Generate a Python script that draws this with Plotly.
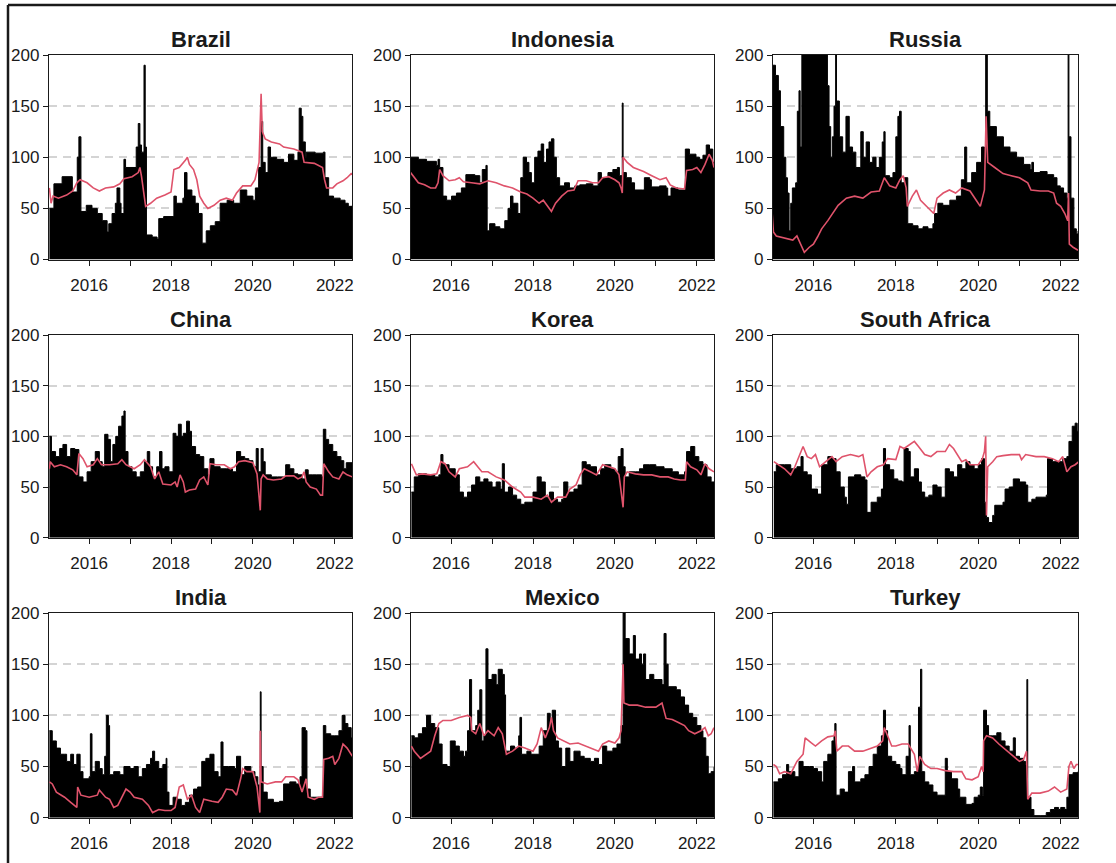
import plotly.graph_objects as go

countries = ["Brazil", "Indonesia", "Russia", "China", "Korea", "South Africa", "India", "Mexico", "Turkey"]
x_tickvals = [2016, 2017, 2018, 2019, 2020, 2021, 2022]
x_ticktext = ["2016", "", "2018", "", "2020", "", "2022"]
y_tickvals = [0, 50, 100, 150, 200]
y_ticktext = ["0", "50", "100", "150", "200"]

# (decimal year, value) pairs
brazil_bar = [(2015.03,50),(2015.14,74),(2015.34,81),(2015.59,66),(2015.71,100),(2015.75,120),(2015.80,47),(2015.93,53),
    (2016.07,50),(2016.20,45),(2016.32,38),(2016.44,27),(2016.48,35),(2016.56,45),(2016.64,55),(2016.68,70),(2016.75,55),(2016.78,45),(2016.85,98),(2016.89,90),
    (2017.15,110),(2017.20,133),(2017.24,112),(2017.28,105),(2017.34,190),(2017.37,110),(2017.40,24),(2017.54,22),(2017.66,20),(2017.70,40),(2017.82,42),
    (2018.07,62),(2018.13,55),(2018.29,60),(2018.33,85),(2018.39,68),(2018.51,62),(2018.59,55),(2018.67,45),(2018.76,16),(2018.86,28),(2018.96,33),
    (2019.08,37),(2019.20,55),(2019.37,58),(2019.53,55),(2019.69,68),(2019.85,62),
    (2020.00,58),(2020.06,70),(2020.14,90),(2020.20,135),(2020.24,95),(2020.30,85),(2020.37,110),(2020.43,100),(2020.58,98),(2020.75,95),(2020.87,103),
    (2021.00,97),(2021.10,105),(2021.13,148),(2021.18,140),(2021.22,115),(2021.28,100),(2021.30,105),(2021.52,104),(2021.72,105),(2021.76,80),(2021.85,62),(2021.97,60),
    (2022.13,58),(2022.25,55),(2022.33,52),(2022.43,53)]
brazil_line = [(2015.03,70),(2015.07,55),(2015.12,62),(2015.25,60),(2015.45,63),(2015.60,67),(2015.70,75),(2015.78,78),(2015.95,75),
    (2016.10,70),(2016.25,67),(2016.40,70),(2016.60,71),(2016.75,74),(2016.85,79),(2017.05,81),(2017.20,85),(2017.24,90),(2017.28,81),(2017.38,52),
    (2017.50,55),(2017.65,60),(2017.85,63),(2018.00,66),(2018.07,88),(2018.20,90),(2018.35,97),(2018.40,100),(2018.45,93),(2018.55,88),(2018.63,78),
    (2018.70,62),(2018.80,55),(2018.90,50),(2019.05,53),(2019.20,58),(2019.35,60),(2019.50,58),(2019.60,65),(2019.75,72),(2019.95,72),(2020.05,78),
    (2020.15,95),(2020.20,162),(2020.23,125),(2020.30,118),(2020.45,115),(2020.65,113),(2020.75,110),(2021.00,108),(2021.20,105),(2021.25,95),
    (2021.50,94),(2021.70,90),(2021.75,78),(2021.80,70),(2021.95,70),(2022.05,74),(2022.20,77),(2022.30,80),(2022.40,84),(2022.43,83)]

indonesia_bar = [(2015.01,100),(2015.20,98),(2015.40,96),(2015.64,92),(2015.68,98),(2015.72,90),(2015.80,62),(2015.89,58),(2016.01,62),(2016.13,65),
    (2016.25,70),(2016.36,83),(2016.58,82),(2016.70,75),(2016.76,88),(2016.85,92),(2016.88,28),(2016.94,35),(2017.07,32),(2017.19,30),(2017.31,38),
    (2017.39,50),(2017.45,62),(2017.51,55),(2017.63,45),(2017.70,80),(2017.76,100),(2017.84,95),(2017.90,85),(2017.96,75),(2018.04,100),(2018.12,106),
    (2018.20,113),(2018.26,95),(2018.33,108),(2018.39,115),(2018.45,118),(2018.51,100),(2018.57,80),(2018.65,72),(2018.77,75),(2018.89,70),(2019.02,72),
    (2019.14,73),(2019.30,74),(2019.46,72),(2019.59,85),(2019.67,80),(2019.83,85),(2019.95,88),(2020.06,90),(2020.11,82),(2020.18,153),(2020.20,85),
    (2020.28,80),(2020.40,75),(2020.48,68),(2020.68,68),(2020.72,80),(2020.85,78),(2020.89,71),(2021.09,72),(2021.25,70),(2021.29,62),(2021.37,70),
    (2021.54,68),(2021.70,68),(2021.72,108),(2021.82,103),(2021.98,100),(2022.07,98),(2022.15,102),(2022.23,112),(2022.31,108),(2022.39,95),(2022.42,95)]
indonesia_line = [(2015.01,85),(2015.10,80),(2015.20,75),(2015.35,73),(2015.50,70),(2015.62,70),(2015.68,75),(2015.72,88),(2015.80,82),(2015.95,77),
    (2016.10,78),(2016.20,80),(2016.30,76),(2016.50,75),(2016.70,74),(2016.90,77),(2017.10,75),(2017.30,72),(2017.50,70),(2017.70,66),(2017.85,64),
    (2018.00,60),(2018.15,55),(2018.25,58),(2018.40,50),(2018.45,47),(2018.55,55),(2018.70,62),(2018.85,67),(2019.00,68),(2019.10,77),(2019.30,77),
    (2019.45,75),(2019.60,75),(2019.70,80),(2019.85,81),(2020.00,78),(2020.10,75),(2020.15,70),(2020.18,65),(2020.20,100),(2020.30,95),(2020.45,90),
    (2020.70,86),(2020.90,82),(2021.10,78),(2021.25,80),(2021.35,73),(2021.50,70),(2021.70,69),(2021.75,87),(2021.90,88),(2022.00,90),(2022.10,85),
    (2022.20,93),(2022.30,103),(2022.38,97),(2022.42,90)]

russia_bar = [(2015.00,190),(2015.08,180),(2015.15,165),(2015.20,130),(2015.28,100),(2015.33,80),(2015.37,65),(2015.41,28),(2015.45,55),(2015.49,70),
    (2015.57,75),(2015.61,145),(2015.65,165),(2015.68,110),(2015.72,230),(2016.30,230),(2016.34,170),(2016.38,130),(2016.42,100),(2016.46,120),(2016.50,150),
    (2016.54,230),(2016.56,155),(2016.63,120),(2016.71,105),(2016.79,140),(2016.87,110),(2016.95,105),(2017.03,90),(2017.15,125),(2017.21,100),
    (2017.28,115),(2017.36,95),(2017.44,100),(2017.52,90),(2017.60,100),(2017.67,115),(2017.71,125),(2017.74,82),(2017.85,80),(2017.93,85),(2018.00,120),
    (2018.05,140),(2018.09,145),(2018.13,75),(2018.21,80),(2018.29,35),(2018.41,33),(2018.54,30),(2018.66,32),(2018.78,30),(2018.90,35),(2018.94,45),
    (2019.02,55),(2019.14,53),(2019.31,58),(2019.47,62),(2019.59,78),(2019.67,110),(2019.72,75),(2019.84,85),(2019.96,95),(2020.08,110),(2020.15,95),
    (2020.18,230),(2020.22,145),(2020.28,130),(2020.44,120),(2020.61,110),(2020.77,105),(2020.93,100),(2021.10,93),(2021.26,88),(2021.30,95),(2021.34,85),
    (2021.50,86),(2021.67,83),(2021.83,80),(2021.91,72),(2021.99,70),(2022.07,65),(2022.15,60),(2022.18,230),(2022.20,120),(2022.25,60),(2022.32,30),
    (2022.38,25),(2022.42,28)]
russia_line = [(2015.00,45),(2015.03,27),(2015.10,23),(2015.30,21),(2015.50,19),(2015.60,23),(2015.70,15),(2015.78,7),(2015.90,12),(2016.00,15),
    (2016.10,22),(2016.20,30),(2016.35,38),(2016.50,47),(2016.60,53),(2016.80,60),(2017.00,62),(2017.20,60),(2017.40,66),(2017.60,67),(2017.72,80),
    (2017.85,72),(2018.00,70),(2018.10,78),(2018.18,82),(2018.25,70),(2018.28,52),(2018.40,62),(2018.50,68),(2018.60,58),(2018.80,50),(2018.92,45),
    (2019.00,60),(2019.15,65),(2019.30,68),(2019.45,65),(2019.60,70),(2019.80,67),(2019.95,58),(2020.05,52),(2020.10,60),(2020.15,68),(2020.19,140),
    (2020.23,95),(2020.40,90),(2020.60,84),(2020.80,82),(2021.00,80),(2021.20,75),(2021.28,68),(2021.50,67),(2021.70,67),(2021.83,65),(2021.90,55),
    (2022.00,52),(2022.10,45),(2022.17,38),(2022.19,65),(2022.21,15),(2022.30,12),(2022.42,9)]

china_bar = [(2015.03,100),(2015.08,85),(2015.18,80),(2015.28,88),(2015.36,92),(2015.45,80),(2015.55,88),(2015.65,87),(2015.75,60),(2015.85,55),
    (2015.95,65),(2016.05,75),(2016.15,85),(2016.25,75),(2016.32,70),(2016.38,102),(2016.46,97),(2016.52,75),(2016.58,92),(2016.65,100),(2016.72,110),
    (2016.80,120),(2016.85,125),(2016.88,85),(2016.95,70),(2017.05,65),(2017.15,60),(2017.25,65),(2017.35,75),(2017.42,85),(2017.48,70),(2017.55,60),
    (2017.65,70),(2017.72,85),(2017.78,68),(2017.85,70),(2017.95,65),(2018.05,103),(2018.12,100),(2018.18,112),(2018.25,100),(2018.30,103),(2018.38,115),
    (2018.45,105),(2018.50,90),(2018.60,82),(2018.70,80),(2018.80,68),(2018.90,62),(2018.95,78),(2019.05,70),(2019.20,68),(2019.35,68),(2019.50,65),
    (2019.60,85),(2019.70,80),(2019.80,78),(2019.90,76),(2020.00,70),(2020.08,88),(2020.13,65),(2020.20,88),(2020.25,75),(2020.30,62),(2020.45,60),
    (2020.60,60),(2020.75,60),(2020.80,72),(2020.90,68),(2021.00,63),(2021.10,62),(2021.20,58),(2021.28,67),(2021.35,62),(2021.45,62),(2021.55,62),
    (2021.68,60),(2021.72,107),(2021.78,97),(2021.85,92),(2021.95,85),(2022.05,80),(2022.15,76),(2022.22,68),(2022.28,74),(2022.43,74)]
china_line = [(2015.03,68),(2015.05,75),(2015.15,70),(2015.30,72),(2015.45,70),(2015.60,67),(2015.70,62),(2015.75,83),(2015.85,78),(2015.95,70),
    (2016.10,72),(2016.20,78),(2016.30,72),(2016.50,72),(2016.70,73),(2016.80,77),(2016.90,72),(2017.10,68),(2017.25,72),(2017.35,77),(2017.50,70),
    (2017.60,58),(2017.70,65),(2017.80,53),(2018.00,52),(2018.10,55),(2018.15,50),(2018.22,62),(2018.30,55),(2018.35,45),(2018.45,47),(2018.60,48),
    (2018.70,57),(2018.80,60),(2018.90,52),(2018.95,73),(2019.10,72),(2019.30,72),(2019.45,68),(2019.55,70),(2019.65,75),(2019.80,76),(2020.00,74),
    (2020.10,63),(2020.18,27),(2020.20,58),(2020.25,62),(2020.35,58),(2020.50,57),(2020.70,58),(2020.80,61),(2021.00,61),(2021.10,58),(2021.20,60),
    (2021.25,65),(2021.30,55),(2021.40,50),(2021.55,48),(2021.65,42),(2021.70,42),(2021.73,73),(2021.85,65),(2021.95,60),(2022.10,58),(2022.20,65),
    (2022.30,62),(2022.43,60)]

korea_bar = [(2015.03,45),(2015.10,60),(2015.20,63),(2015.40,62),(2015.60,60),(2015.70,62),(2015.75,82),(2015.80,72),(2015.95,68),(2016.10,62),
    (2016.20,45),(2016.30,40),(2016.40,45),(2016.50,52),(2016.60,60),(2016.70,55),(2016.80,58),(2016.90,55),(2017.00,50),(2017.10,55),(2017.20,48),
    (2017.25,73),(2017.30,45),(2017.40,50),(2017.50,42),(2017.60,38),(2017.70,33),(2017.80,35),(2017.90,35),(2018.00,45),(2018.10,60),(2018.20,55),
    (2018.30,40),(2018.40,45),(2018.50,38),(2018.60,35),(2018.70,38),(2018.75,55),(2018.85,45),(2019.00,48),(2019.10,52),(2019.20,75),(2019.30,72),
    (2019.40,70),(2019.55,62),(2019.65,68),(2019.75,72),(2019.90,68),(2020.00,65),(2020.08,80),(2020.15,88),(2020.20,70),(2020.25,60),(2020.35,65),
    (2020.50,65),(2020.60,68),(2020.70,72),(2020.85,72),(2021.00,70),(2021.20,68),(2021.40,65),(2021.55,62),(2021.70,65),(2021.75,85),(2021.85,90),
    (2021.95,80),(2022.05,75),(2022.15,72),(2022.25,60),(2022.35,55),(2022.42,50)]
korea_line = [(2015.03,73),(2015.08,68),(2015.15,62),(2015.30,63),(2015.50,62),(2015.65,63),(2015.75,75),(2015.85,73),(2015.95,65),(2016.10,60),
    (2016.20,68),(2016.40,70),(2016.55,75),(2016.65,70),(2016.75,65),(2016.90,65),(2017.10,60),(2017.30,57),(2017.50,50),(2017.70,45),(2017.80,40),
    (2018.00,40),(2018.20,38),(2018.35,42),(2018.45,35),(2018.60,40),(2018.80,40),(2018.90,48),(2019.05,52),(2019.15,62),(2019.25,68),(2019.40,65),
    (2019.55,62),(2019.70,72),(2019.85,70),(2020.00,68),(2020.10,62),(2020.17,40),(2020.20,30),(2020.23,60),(2020.30,65),(2020.50,63),(2020.70,62),
    (2020.90,62),(2021.10,60),(2021.30,60),(2021.45,58),(2021.60,57),(2021.72,57),(2021.75,75),(2021.85,70),(2022.00,67),(2022.10,62),(2022.20,73),
    (2022.30,68),(2022.42,65)]

south_africa_bar = [(2015.04,65),(2015.10,72),(2015.30,72),(2015.45,68),(2015.60,70),(2015.70,80),(2015.75,65),(2015.85,62),(2015.95,48),(2016.10,43),
    (2016.20,72),(2016.35,80),(2016.45,78),(2016.55,65),(2016.65,50),(2016.75,40),(2016.80,33),(2016.85,60),(2017.00,62),(2017.15,60),(2017.25,57),
    (2017.30,25),(2017.40,35),(2017.55,40),(2017.65,48),(2017.70,88),(2017.75,72),(2017.85,67),(2017.95,58),(2018.05,56),(2018.15,55),(2018.20,88),
    (2018.30,85),(2018.35,60),(2018.45,68),(2018.55,55),(2018.62,45),(2018.70,40),(2018.80,42),(2018.90,52),(2019.00,50),(2019.10,40),(2019.20,68),
    (2019.30,65),(2019.40,60),(2019.50,72),(2019.60,68),(2019.70,75),(2019.80,72),(2019.90,68),(2020.00,72),(2020.08,78),(2020.15,35),(2020.20,20),
    (2020.25,15),(2020.35,22),(2020.40,32),(2020.60,35),(2020.65,48),(2020.75,50),(2020.85,58),(2021.00,55),(2021.15,52),(2021.20,35),(2021.30,38),
    (2021.40,40),(2021.55,40),(2021.65,42),(2021.68,78),(2021.80,75),(2021.95,75),(2022.05,78),(2022.15,80),(2022.20,95),(2022.28,110),(2022.35,113),
    (2022.40,105),(2022.44,108)]
south_africa_line = [(2015.04,75),(2015.15,72),(2015.30,68),(2015.45,62),(2015.55,70),(2015.70,85),(2015.75,90),(2015.85,80),(2015.95,78),(2016.05,82),
    (2016.15,70),(2016.30,75),(2016.45,80),(2016.55,75),(2016.70,80),(2016.90,82),(2017.10,80),(2017.20,82),(2017.25,70),(2017.30,60),(2017.40,65),
    (2017.55,70),(2017.70,72),(2017.80,78),(2018.00,77),(2018.10,90),(2018.20,88),(2018.35,92),(2018.45,95),(2018.55,90),(2018.70,82),(2018.85,80),
    (2019.00,85),(2019.20,85),(2019.30,92),(2019.40,88),(2019.50,82),(2019.60,75),(2019.70,77),(2019.80,72),(2020.00,72),(2020.10,78),(2020.15,85),
    (2020.18,100),(2020.20,22),(2020.23,70),(2020.35,75),(2020.45,80),(2020.60,81),(2020.80,82),(2021.00,82),(2021.05,77),(2021.15,82),(2021.40,80),
    (2021.60,80),(2021.80,78),(2021.95,75),(2022.05,80),(2022.15,65),(2022.25,70),(2022.35,72),(2022.44,75)]

india_bar = [(2015.03,85),(2015.10,75),(2015.20,68),(2015.30,62),(2015.40,62),(2015.45,55),(2015.55,62),(2015.62,52),(2015.70,62),(2015.78,45),
    (2015.85,38),(2016.00,40),(2016.03,82),(2016.07,45),(2016.15,55),(2016.25,48),(2016.32,42),(2016.38,60),(2016.42,100),(2016.47,90),(2016.50,42),
    (2016.60,45),(2016.75,42),(2016.85,50),(2017.00,48),(2017.10,50),(2017.20,40),(2017.30,48),(2017.40,52),(2017.50,58),(2017.55,65),(2017.60,55),
    (2017.70,48),(2017.80,52),(2017.88,58),(2017.90,25),(2017.95,12),(2018.05,20),(2018.15,18),(2018.25,12),(2018.35,15),(2018.45,22),(2018.55,28),
    (2018.65,30),(2018.75,55),(2018.85,58),(2018.95,62),(2019.05,45),(2019.15,40),(2019.22,74),(2019.27,50),(2019.40,50),(2019.55,48),(2019.60,60),
    (2019.70,42),(2019.80,50),(2019.95,45),(2020.05,40),(2020.12,32),(2020.17,28),(2020.18,123),(2020.20,50),(2020.25,25),(2020.35,18),(2020.50,15),
    (2020.65,16),(2020.75,33),(2020.90,35),(2021.05,33),(2021.15,40),(2021.20,88),(2021.28,85),(2021.32,28),(2021.40,20),(2021.50,20),(2021.62,20),
    (2021.70,22),(2021.72,90),(2021.78,82),(2021.90,80),(2022.00,80),(2022.10,85),(2022.18,100),(2022.25,92),(2022.32,88),(2022.40,78),(2022.43,75)]
india_line = [(2015.03,35),(2015.10,33),(2015.20,25),(2015.40,20),(2015.55,15),(2015.70,10),(2015.72,30),(2015.80,22),(2016.00,20),(2016.20,22),
    (2016.25,27),(2016.40,20),(2016.50,18),(2016.60,10),(2016.70,12),(2016.80,20),(2016.90,28),(2017.00,25),(2017.10,20),(2017.30,18),(2017.45,12),
    (2017.55,5),(2017.70,8),(2017.85,7),(2018.00,7),(2018.10,10),(2018.20,30),(2018.30,32),(2018.40,18),(2018.50,22),(2018.60,10),(2018.70,5),
    (2018.80,18),(2019.00,16),(2019.15,15),(2019.25,20),(2019.35,28),(2019.50,27),(2019.60,22),(2019.70,38),(2019.75,48),(2019.85,45),(2020.00,45),
    (2020.10,30),(2020.17,5),(2020.18,85),(2020.20,35),(2020.35,33),(2020.55,35),(2020.70,35),(2020.80,40),(2021.00,40),(2021.10,37),(2021.20,25),
    (2021.30,38),(2021.35,20),(2021.50,18),(2021.60,20),(2021.70,20),(2021.73,57),(2021.85,58),(2021.95,60),(2022.00,52),(2022.10,58),(2022.20,72),
    (2022.30,68),(2022.43,60)]

mexico_bar = [(2015.03,80),(2015.10,78),(2015.20,82),(2015.30,88),(2015.40,100),(2015.50,92),(2015.60,88),(2015.70,72),(2015.78,52),(2015.90,50),
    (2015.98,75),(2016.10,70),(2016.20,65),(2016.30,60),(2016.35,65),(2016.40,85),(2016.45,135),(2016.50,85),(2016.60,90),(2016.65,105),(2016.70,125),
    (2016.75,75),(2016.80,80),(2016.85,165),(2016.90,135),(2017.00,140),(2017.10,130),(2017.15,145),(2017.25,140),(2017.30,120),(2017.33,65),(2017.45,70),
    (2017.55,68),(2017.65,80),(2017.68,98),(2017.72,62),(2017.85,65),(2017.95,62),(2018.05,62),(2018.15,70),(2018.25,85),(2018.35,102),(2018.42,95),
    (2018.47,105),(2018.55,75),(2018.62,68),(2018.70,50),(2018.80,68),(2018.90,55),(2019.00,65),(2019.15,60),(2019.25,58),(2019.40,55),(2019.50,58),
    (2019.60,52),(2019.70,70),(2019.80,65),(2019.95,68),(2020.05,72),(2020.15,90),(2020.20,200),(2020.25,175),(2020.35,160),(2020.42,160),(2020.45,178),
    (2020.50,155),(2020.60,160),(2020.65,150),(2020.70,160),(2020.75,135),(2020.85,140),(2020.95,135),(2021.05,135),(2021.15,130),(2021.20,180),
    (2021.25,150),(2021.30,128),(2021.50,125),(2021.60,118),(2021.70,110),(2021.80,102),(2021.90,98),(2022.00,90),(2022.10,85),(2022.15,78),(2022.22,60),
    (2022.28,43),(2022.35,45),(2022.42,50)]
mexico_line = [(2015.03,70),(2015.10,65),(2015.25,58),(2015.40,62),(2015.50,65),(2015.60,80),(2015.70,92),(2015.80,95),(2016.00,95),(2016.20,98),
    (2016.40,100),(2016.48,98),(2016.50,85),(2016.60,82),(2016.70,92),(2016.80,80),(2016.90,85),(2017.05,80),(2017.15,88),(2017.25,82),(2017.35,62),
    (2017.50,65),(2017.65,70),(2017.80,68),(2018.00,65),(2018.10,72),(2018.20,88),(2018.30,78),(2018.40,88),(2018.45,98),(2018.50,85),(2018.60,78),
    (2018.75,75),(2018.90,72),(2019.10,73),(2019.30,70),(2019.50,67),(2019.60,65),(2019.70,72),(2019.85,75),(2020.00,73),(2020.10,78),(2020.15,85),
    (2020.20,150),(2020.22,112),(2020.35,110),(2020.55,110),(2020.75,108),(2021.00,108),(2021.15,112),(2021.25,97),(2021.40,96),(2021.55,93),
    (2021.70,90),(2021.80,85),(2021.95,82),(2022.10,85),(2022.20,88),(2022.28,80),(2022.35,82),(2022.42,88)]

turkey_bar = [(2015.03,35),(2015.15,38),(2015.25,42),(2015.35,52),(2015.40,45),(2015.55,40),(2015.65,55),(2015.75,50),(2015.90,50),(2016.00,48),
    (2016.10,45),(2016.20,35),(2016.25,55),(2016.35,62),(2016.45,75),(2016.50,80),(2016.52,92),(2016.55,22),(2016.65,28),(2016.75,25),(2016.85,45),
    (2016.95,50),(2017.00,35),(2017.15,38),(2017.25,42),(2017.35,50),(2017.45,62),(2017.55,70),(2017.65,80),(2017.70,105),(2017.75,85),(2017.80,60),
    (2017.90,55),(2018.00,52),(2018.10,48),(2018.15,42),(2018.25,60),(2018.32,90),(2018.35,42),(2018.45,45),(2018.55,108),(2018.60,145),(2018.63,45),
    (2018.70,35),(2018.80,32),(2018.90,25),(2019.00,22),(2019.15,22),(2019.20,58),(2019.25,45),(2019.35,38),(2019.50,28),(2019.55,20),(2019.70,13),
    (2019.85,14),(2019.90,20),(2020.00,22),(2020.05,30),(2020.10,22),(2020.13,105),(2020.20,90),(2020.25,80),(2020.35,80),(2020.45,83),(2020.55,75),
    (2020.65,70),(2020.75,65),(2020.85,78),(2020.90,60),(2021.00,58),(2021.10,55),(2021.15,52),(2021.18,135),(2021.20,20),(2021.28,8),(2021.35,2),
    (2021.50,2),(2021.65,5),(2021.75,8),(2021.85,10),(2021.95,8),(2022.00,10),(2022.10,8),(2022.15,20),(2022.20,42),(2022.30,44),(2022.42,45)]
turkey_line = [(2015.03,52),(2015.10,50),(2015.18,43),(2015.30,45),(2015.45,43),(2015.60,55),(2015.75,62),(2015.80,78),(2015.95,73),(2016.05,70),
    (2016.20,75),(2016.35,79),(2016.50,80),(2016.53,85),(2016.57,65),(2016.70,70),(2016.85,70),(2017.00,65),(2017.20,65),(2017.40,68),(2017.55,70),
    (2017.68,75),(2017.72,88),(2017.80,80),(2017.90,70),(2018.00,70),(2018.15,72),(2018.30,72),(2018.40,65),(2018.45,62),(2018.52,45),(2018.58,60),
    (2018.70,52),(2018.85,48),(2019.00,48),(2019.20,46),(2019.40,45),(2019.60,45),(2019.70,38),(2019.85,37),(2020.00,40),(2020.08,50),(2020.12,45),
    (2020.13,75),(2020.20,80),(2020.35,78),(2020.50,72),(2020.70,65),(2020.85,60),(2021.00,55),(2021.10,57),(2021.17,65),(2021.20,18),(2021.30,24),
    (2021.50,24),(2021.70,26),(2021.85,30),(2022.00,25),(2022.15,28),(2022.20,50),(2022.25,55),(2022.32,48),(2022.38,52),(2022.42,52)]

bars = [brazil_bar, indonesia_bar, russia_bar, china_bar, korea_bar, south_africa_bar, india_bar, mexico_bar, turkey_bar]
lines = [brazil_line, indonesia_line, russia_line, china_line, korea_line, south_africa_line, india_line, mexico_line, turkey_line]

W, H = 1116, 863
col_px = [(49, 352), (411, 714), (773, 1078)]
row_px = [(55, 259.5), (335, 537.7), (613, 817.7)]

RED = "#DF536B"
TICKFONT = dict(family="Liberation Sans, Arial, sans-serif", size=17, color="#1a1a1a")
TITLEFONT = dict(family="Liberation Sans, Arial, sans-serif", size=22, color="#1a1a1a")

fig = go.Figure()
annotations = []
layout_axes = {}
for i, name in enumerate(countries):
    r, c = divmod(i, 3)
    k = "" if i == 0 else str(i + 1)
    x0, x1 = col_px[c]
    y0, y1 = row_px[r]
    bx = [p[0] for p in bars[i]]
    by = [p[1] for p in bars[i]]
    lx = [p[0] for p in lines[i]]
    ly = [p[1] for p in lines[i]]
    fig.add_trace(go.Scatter(x=bx, y=by, mode="lines", line=dict(color="black", width=1, shape="hv"),
                             fill="tozeroy", fillcolor="black", xaxis="x" + k, yaxis="y" + k,
                             showlegend=False, hoverinfo="skip"))
    fig.add_trace(go.Scatter(x=lx, y=ly, mode="lines", line=dict(color=RED, width=1.6),
                             xaxis="x" + k, yaxis="y" + k, showlegend=False))
    layout_axes["xaxis" + k] = dict(
        domain=[x0 / W, x1 / W], anchor="y" + k, range=[2015.02, 2022.42],
        tickmode="array", tickvals=x_tickvals, ticktext=x_ticktext,
        ticks="outside", ticklen=5, tickwidth=1.2, tickcolor="#1a1a1a",
        showline=True, linecolor="#1a1a1a", linewidth=1.3, mirror=True, automargin=False,
        showgrid=False, zeroline=False, tickfont=TICKFONT, ticklabelstandoff=5)
    layout_axes["yaxis" + k] = dict(
        domain=[1 - y1 / H, 1 - y0 / H], anchor="x" + k, range=[0, 200],
        tickmode="array", tickvals=y_tickvals, ticktext=y_ticktext,
        ticks="outside", ticklen=5, tickwidth=1.2, tickcolor="#1a1a1a",
        showline=True, linecolor="#1a1a1a", linewidth=1.3, mirror=True, automargin=False,
        showgrid=True, gridcolor="#d4d4d4", gridwidth=1.5, griddash="8px,6px",
        zeroline=False, tickfont=TICKFONT, ticklabelstandoff=0)
    annotations.append(dict(text="<b>" + name + "</b>", x=(x0 + x1) / 2 / W, y=1 - y0 / H,
                            xref="paper", yref="paper", xanchor="center", yanchor="bottom",
                            yshift=1, showarrow=False, font=TITLEFONT))

fig.update_layout(
    width=W, height=H, margin=dict(l=0, r=0, t=0, b=0, pad=0, autoexpand=False),
    paper_bgcolor="white", plot_bgcolor="white",
    annotations=annotations,
    shapes=[
        dict(type="line", xref="paper", yref="paper", x0=8 / W, x1=1.0, y0=1 - 5 / H, y1=1 - 5 / H,
             line=dict(color="#1a1a1a", width=2.5)),
        dict(type="line", xref="paper", yref="paper", x0=8 / W, x1=8 / W, y0=1 - 5 / H, y1=0.0,
             line=dict(color="#1a1a1a", width=2.5)),
    ],
    **layout_axes,
)
fig.write_html("out.html", config={"displayModeBar": False},
               post_script="document.body.style.margin='0';document.body.style.overflow='hidden';")
